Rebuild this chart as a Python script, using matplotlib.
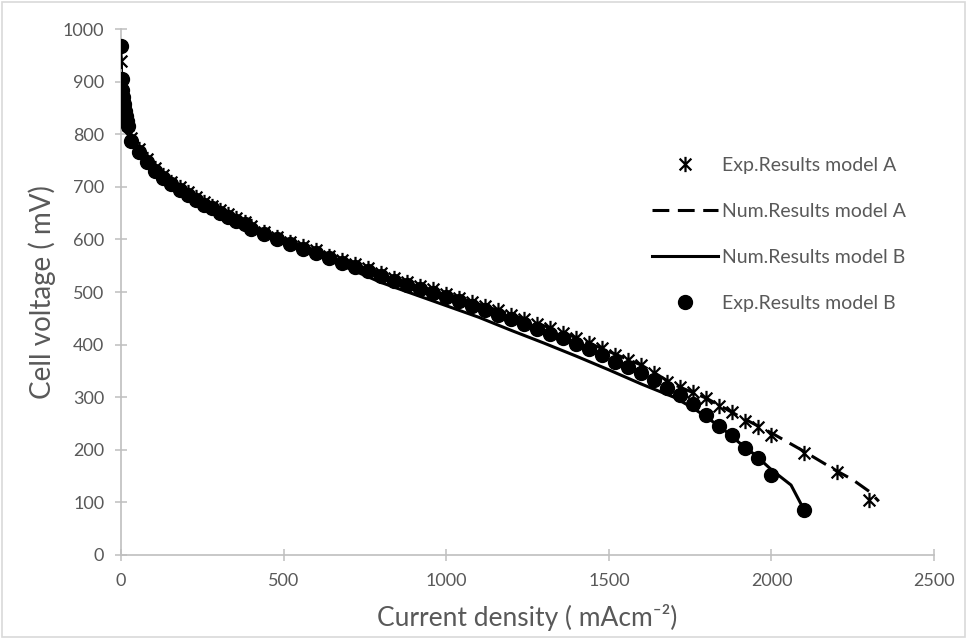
import matplotlib
matplotlib.use("Agg")
import matplotlib.pyplot as plt
from matplotlib.path import Path
from matplotlib.patches import Rectangle

# Exp.Results model A (asterisks)
expA_x = [0, 2, 4, 6, 8, 11, 14, 18, 22,
          30, 55, 80, 105, 130, 155, 180, 205, 230, 255, 280, 305, 330, 355, 380,
          400, 440, 480, 520, 560, 600, 640, 680, 720, 760, 800, 840, 880, 920, 960,
          1000, 1040, 1080, 1120, 1160, 1200, 1240, 1280, 1320, 1360, 1400, 1440, 1480,
          1520, 1560, 1600, 1640, 1680, 1720, 1760, 1800, 1840, 1880, 1920, 1960, 2000,
          2100, 2200, 2300]
expA_v = [940, 895, 878, 866, 855, 845, 836, 826, 817,
          793, 772, 753, 736, 722, 710, 699, 690, 680, 671, 664, 656, 648, 641, 634,
          625, 615, 605, 596, 587, 579, 569, 561, 553, 545, 536, 527, 519, 512, 505,
          497, 489, 481, 474, 465, 457, 449, 439, 431, 423, 413, 403, 393,
          380, 370, 361, 346, 329, 319, 310, 298, 283, 272, 255, 243, 228,
          194, 158, 105]

# Exp.Results model B (circles)
expB_x = [0, 2, 4, 6, 8, 11, 14, 18, 22,
          30, 55, 80, 105, 130, 155, 180, 205, 230, 255, 280, 305, 330, 355, 380,
          400, 440, 480, 520, 560, 600, 640, 680, 720, 760, 800, 840, 880, 920, 960,
          1000, 1040, 1080, 1120, 1160, 1200, 1240, 1280, 1320, 1360, 1400, 1440, 1480,
          1520, 1560, 1600, 1640, 1680, 1720, 1760, 1800, 1840, 1880, 1920, 1960, 2000,
          2100]
expB_v = [968, 905, 885, 870, 857, 845, 835, 825, 815,
          788, 767, 747, 730, 717, 705, 694, 685, 675, 666, 659, 651, 643, 636, 629,
          620, 610, 600, 591, 582, 574, 564, 556, 548, 540, 531, 521, 513, 506, 499,
          490, 482, 473, 466, 456, 448, 439, 429, 420, 412, 401, 391, 380,
          367, 357, 346, 333, 317, 304, 287, 266, 245, 228, 203, 184, 152,
          86]

# Num.Results model A (dashed)
numA_x = [0, 3, 10, 20, 35, 60, 100, 150, 200, 300, 400, 500, 600, 700, 800, 900,
          1000, 1100, 1200, 1300, 1400, 1500, 1600, 1700, 1800, 1900, 2000, 2100,
          2200, 2250, 2300, 2330]
numA_v = [940, 890, 850, 820, 793, 770, 738, 710, 690, 655, 625, 600, 579, 559, 536, 514,
          497, 477, 457, 436, 413, 387, 361, 324, 298, 264, 232, 197,
          160, 143, 121, 102]

# Num.Results model B (solid)
numB_x = [0, 3, 10, 20, 35, 60, 100, 150, 200, 300, 400, 500, 600, 700, 800, 900,
          1000, 1100, 1200, 1300, 1400, 1500, 1600, 1700, 1760, 1800, 1850, 1900,
          1950, 2000, 2060, 2100]
numB_v = [945, 885, 845, 815, 787, 762, 730, 703, 685, 650, 620, 596, 570, 545, 518, 496,
          474, 452, 427, 403, 378, 352, 325, 300, 279, 262, 240, 214,
          190, 162, 133, 86]

plt.rcParams["font.family"] = ["Lato", "DejaVu Sans"]
txt_col = "#595959"
axis_col = "#bfbfbf"

fig = plt.figure(figsize=(9.68, 6.39), dpi=100)
ax = fig.add_axes([0.125, 0.1315, 0.840, 0.823])

# asterisk marker: X with a vertical bar
star = Path([(-1, -1), (1, 1), (-1, 1), (1, -1), (0, -1.3), (0, 1.3)],
            [Path.MOVETO, Path.LINETO, Path.MOVETO, Path.LINETO, Path.MOVETO, Path.LINETO])

ax.plot(numA_x, numA_v, color="black", lw=2.2, dashes=(5.5, 2.8), zorder=2,
        label="Num.Results model A")
ax.plot(numB_x, numB_v, color="black", lw=2.2, zorder=2, label="Num.Results model B")
ax.plot(expA_x, expA_v, ls="none", marker=star, ms=11, mec="black", mew=1.6,
        mfc="none", zorder=3, label="Exp.Results model A")
ax.plot(expB_x, expB_v, ls="none", marker="o", ms=10, color="black", zorder=4,
        label="Exp.Results model B")

ax.set_xlim(0, 2500)
ax.set_ylim(0, 1000)
ax.set_xticks(range(0, 2501, 500))
ax.set_yticks(range(0, 1001, 100))
for s in ["top", "right"]:
    ax.spines[s].set_visible(False)
for s in ["left", "bottom"]:
    ax.spines[s].set_color(axis_col)
    ax.spines[s].set_linewidth(1.2)
ax.tick_params(direction="inout", length=8, width=1.1, color=axis_col,
               labelcolor=txt_col, labelsize=13)
ax.tick_params(axis="x", pad=9)
ax.tick_params(axis="y", pad=8)

ax.set_xlabel("Current density ( mAcm\u207b\u00b2)", fontsize=19, color=txt_col, labelpad=11)
ax.set_ylabel("Cell voltage ( mV)", fontsize=20, color=txt_col, labelpad=5)

h, l = ax.get_legend_handles_labels()
order = [2, 0, 1, 3]
fig.legend([h[i] for i in order], [l[i] for i in order], loc="upper left",
           bbox_to_anchor=(0.6736, 0.755), bbox_transform=fig.transFigure,
           frameon=False, fontsize=14, handlelength=3.4, handletextpad=0.2,
           labelspacing=1.5, borderpad=0, borderaxespad=0, labelcolor=txt_col)

fig.patches.append(Rectangle((0.002, 0.003), 0.995, 0.994, transform=fig.transFigure,
                             fill=False, edgecolor="#d9d9d9", lw=1.2))

fig.savefig("out.png", dpi=100)
